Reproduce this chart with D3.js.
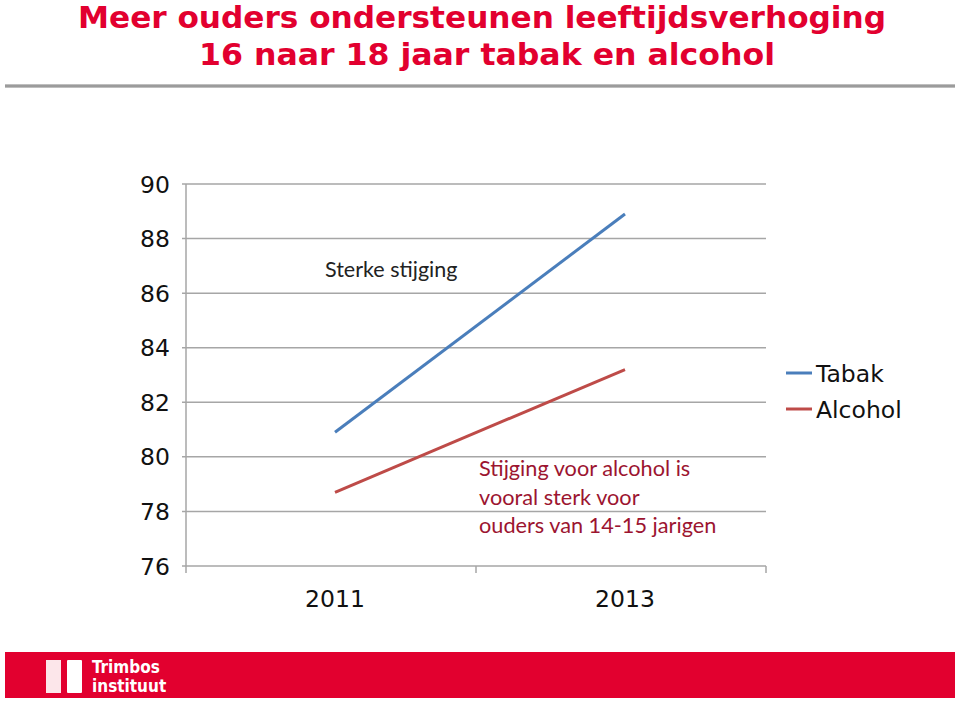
<!DOCTYPE html>
<html><head><meta charset="utf-8">
<script src="https://cdn.jsdelivr.net/npm/d3@7"></script>
<style>body{margin:0;background:#fff}svg{display:block}</style>
</head><body>
<svg id="c" width="960" height="701"></svg>
<script>
const categories = ["2011", "2013"];
const tabak = [80.9, 88.9];
const alcohol = [78.7, 83.2];
const yTicks = [76, 78, 80, 82, 84, 86, 88, 90];
const seriesNames = ["Tabak", "Alcohol"];
const titleLines = ["Meer ouders ondersteunen leeftijdsverhoging", "16 naar 18 jaar tabak en alcohol"];
const noteLines = ["Stijging voor alcohol is", "vooral sterk voor", "ouders van 14-15 jarigen"];

const svg = d3.select("#c");
const colors = {Tabak: "#4a7ebb", Alcohol: "#be4b48"};
const red = "#e2002f";

// Title
svg.selectAll("text.title").data(titleLines).join("text")
  .attr("x", (d, i) => i === 0 ? 482 : 487).attr("y", (d, i) => 28 + i * 37)
  .attr("text-anchor", "middle")
  .attr("font-family", "'DejaVu Sans Condensed', 'DejaVu Sans', sans-serif")
  .attr("font-weight", "bold").attr("font-size", 31)
  .attr("fill", red)
  .attr("textLength", (d, i) => i === 0 ? 808 : 576)
  .attr("lengthAdjust", "spacingAndGlyphs")
  .text(d => d);

const grad = svg.append("defs").append("linearGradient").attr("id", "g").attr("x1", 0).attr("x2", 0).attr("y1", 0).attr("y2", 1);
grad.append("stop").attr("offset", "0%").attr("stop-color", "#d0d0d0");
grad.append("stop").attr("offset", "50%").attr("stop-color", "#8a8a8a");
grad.append("stop").attr("offset", "100%").attr("stop-color", "#d0d0d0");
svg.append("rect").attr("x", 5).attr("y", 84).attr("width", 950).attr("height", 4).attr("fill", "url(#g)");

// Scales
const x = d3.scaleBand().domain(categories).range([186, 766]);
const y = d3.scaleLinear().domain([76, 90]).range([566, 184]);
const cx = c => x(c) + x.bandwidth() / 2 + 4;

const g = svg.append("g");
// gridlines
g.selectAll("line.grid").data(yTicks).join("line")
  .attr("x1", 182).attr("x2", 766)
  .attr("y1", d => y(d)).attr("y2", d => y(d))
  .attr("stroke", "#a6a6a6").attr("stroke-width", 1.5);
// y axis line
g.append("line").attr("x1", 186).attr("x2", 186).attr("y1", 184).attr("y2", 566)
  .attr("stroke", "#a6a6a6").attr("stroke-width", 1.5);
// x ticks
g.selectAll("line.xt").data(categories.map(c => x(c)).concat([766])).join("line")
  .attr("x1", d => d).attr("x2", d => d).attr("y1", 566).attr("y2", 573)
  .attr("stroke", "#a6a6a6").attr("stroke-width", 1.5);

// y labels
g.selectAll("text.yl").data(yTicks).join("text")
  .attr("x", 170).attr("y", d => y(d) + 8.5)
  .attr("text-anchor", "end")
  .attr("font-family", "'DejaVu Sans', Verdana, sans-serif").attr("font-size", 23.5)
  .attr("fill", "#111").text(d => d);
// x labels
g.selectAll("text.xl").data(categories).join("text")
  .attr("x", d => cx(d)).attr("y", 607)
  .attr("text-anchor", "middle")
  .attr("font-family", "'DejaVu Sans', Verdana, sans-serif").attr("font-size", 23.5)
  .attr("fill", "#111").text(d => d);

// lines
const line = d3.line().x((d, i) => cx(categories[i])).y(d => y(d));
const series = [{name: "Tabak", values: tabak}, {name: "Alcohol", values: alcohol}];
g.selectAll("path.s").data(series).join("path")
  .attr("d", d => line(d.values)).attr("fill", "none")
  .attr("stroke", d => colors[d.name]).attr("stroke-width", 3);

// legend
const lg = svg.append("g");
seriesNames.forEach((n, i) => {
  const yy = 373 + i * 36;
  lg.append("line").attr("x1", 786).attr("x2", 812).attr("y1", yy).attr("y2", yy)
    .attr("stroke", colors[n]).attr("stroke-width", 3);
  lg.append("text").attr("x", 816).attr("y", yy + 8.5)
    .attr("font-family", "'DejaVu Sans', Verdana, sans-serif").attr("font-size", 23.5)
    .attr("fill", "#111").text(n);
});

// annotations
svg.append("text").attr("x", 325).attr("y", 277)
  .attr("font-family", "Lato, 'Open Sans', sans-serif").attr("font-size", 21.5)
  .attr("fill", "#222").text("Sterke stijging");
svg.selectAll("text.note").data(noteLines).join("text")
  .attr("x", 479).attr("y", (d, i) => 476 + i * 28.5)
  .attr("font-family", "Lato, 'Open Sans', sans-serif").attr("font-size", 21.7)
  .attr("fill", "#9c1430").text(d => d);

// footer
svg.append("rect").attr("x", 5).attr("y", 652).attr("width", 950).attr("height", 46).attr("fill", red);
svg.append("rect").attr("x", 46).attr("y", 660).attr("width", 15).attr("height", 33).attr("fill", "#fff").attr("opacity", 0.9);
svg.append("rect").attr("x", 67).attr("y", 660).attr("width", 15).attr("height", 33).attr("fill", "#fff").attr("rx", 1);
svg.selectAll("text.logo").data(["Trimbos", "instituut"]).join("text")
  .attr("x", 92).attr("y", (d, i) => 673 + i * 19)
  .attr("font-family", "'DejaVu Sans Condensed', 'Open Sans', sans-serif").attr("font-weight", "bold")
  .attr("font-size", 17).attr("fill", "#fff").text(d => d);
</script>
</body></html>
